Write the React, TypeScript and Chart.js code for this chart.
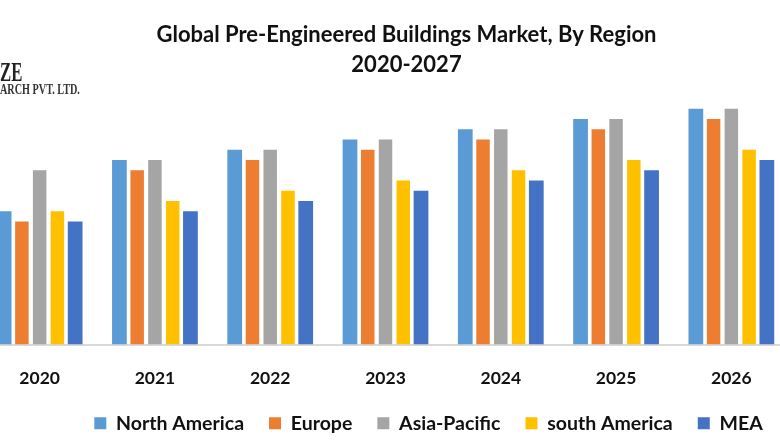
import { useEffect, useRef } from "react";
import Chart from "chart.js/auto";

const years = ["2020", "2021", "2022", "2023", "2024", "2025", "2026"];
const northAmerica = [13, 18, 19, 20, 21, 22, 23];
const europe = [12, 17, 18, 19, 20, 21, 22];
const asiaPacific = [17, 18, 19, 20, 21, 22, 23];
const southAmerica = [13, 14, 15, 16, 17, 18, 19];
const mea = [12, 13, 14, 15, 16, 17, 18];
const titleLines = ["Global Pre-Engineered Buildings Market, By Region", "2020-2027"];

const FONT = "Lato, 'Noto Sans', sans-serif";

// title and legend are not centred on the plot in the original
const shiftBoxes = {
  id: "shiftBoxes",
  afterLayout(chart: any) {
    chart.titleBlock.left += 21;
    chart.titleBlock.right += 21;
    chart.legend.left += 43;
    chart.legend.right += 43;
    chart.legend.top += 3;
    chart.legend.bottom += 3;
  },
};

const App = () => {
  const chartRef = useRef<HTMLCanvasElement | null>(null);

  useEffect(() => {
    if (!chartRef.current) return;

    const chart = new Chart(chartRef.current, {
      type: "bar",
      data: {
        labels: years,
        datasets: [
          { label: "North America", data: northAmerica, backgroundColor: "#5B9BD5", barPercentage: 0.83 },
          { label: "Europe", data: europe, backgroundColor: "#ED7D31", barPercentage: 0.76 },
          { label: "Asia-Pacific", data: asiaPacific, backgroundColor: "#A5A5A5", barPercentage: 0.76 },
          { label: "south America", data: southAmerica, backgroundColor: "#FFC000", barPercentage: 0.76 },
          { label: "MEA", data: mea, backgroundColor: "#4472C4", barPercentage: 0.83 },
        ],
      },
      options: {
        responsive: false,
        animation: false,
        layout: { padding: { left: 0, right: 41, top: 20, bottom: 0 } },
        datasets: { bar: { categoryPercentage: 0.77 } },
        scales: {
          x: {
            grid: { display: false },
            border: { color: "#D9D9D9", width: 2 },
            ticks: { color: "#111111", padding: 15, font: { family: FONT, size: 17.5, weight: "bold" } },
            afterFit(scale: any) {
              scale.height = 41;
            },
          },
          y: { display: false, min: 0, max: 24.85 },
        },
        plugins: {
          title: {
            display: true,
            text: titleLines,
            color: "#111111",
            padding: { top: 0, bottom: 10 },
            font: { family: FONT, size: 22, weight: "bold", lineHeight: 1.36 },
          },
          legend: {
            position: "bottom",
            labels: {
              boxWidth: 12,
              boxHeight: 12,
              padding: 25,
              color: "#111111",
              font: { family: FONT, size: 19.5, weight: "bold" },
            },
          },
          tooltip: { enabled: false },
        },
      },
      plugins: [shiftBoxes],
    });

    return () => {
      chart.destroy();
    };
  }, []);

  return (
    <div style={{ position: "fixed", left: 0, top: 0, width: 780, height: 440, overflow: "hidden", background: "#fff" }}>
      <canvas ref={chartRef} width={848} height={440} style={{ position: "absolute", left: -18, top: 0 }} />
      <div
        style={{
          position: "absolute",
          left: 0,
          top: 58,
          fontFamily: "'Liberation Serif', serif",
          fontWeight: "bold",
          fontSize: 27,
          lineHeight: "28px",
          color: "#222",
          transform: "scaleX(0.62)",
          transformOrigin: "left",
        }}
      >
        ZE
      </div>
      <div
        style={{
          position: "absolute",
          left: 0,
          top: 81,
          fontFamily: "'Liberation Serif', serif",
          fontWeight: "bold",
          fontSize: 15,
          lineHeight: "16px",
          color: "#333",
          whiteSpace: "nowrap",
          transform: "scaleX(0.68)",
          transformOrigin: "left",
        }}
      >
        ARCH PVT. LTD.
      </div>
    </div>
  );
};

export default App;
